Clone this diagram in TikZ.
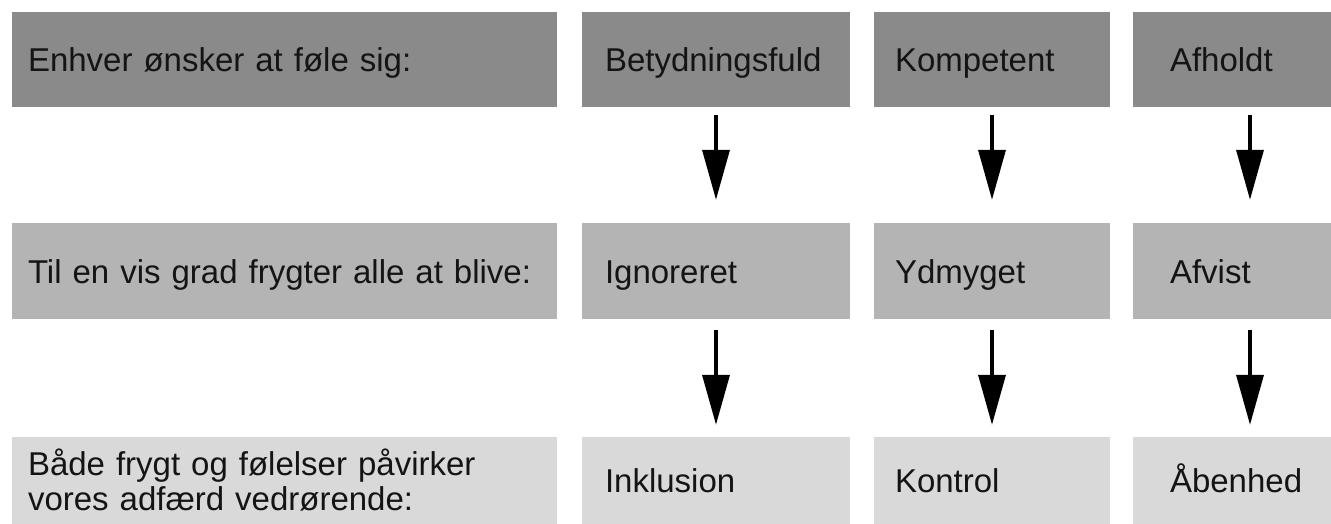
\documentclass[tikz,border=0pt]{standalone}
\usepackage{fontspec}
\setmainfont{Liberation Sans}
\usetikzlibrary{arrows.meta}

\definecolor{moerkgraa}{RGB}{138,138,138}
\definecolor{mellemgraa}{RGB}{180,180,180}
\definecolor{lysgraa}{RGB}{217,217,217}

\tikzset{
  felt/.style={rectangle, draw=none, inner ysep=0pt, align=left, text=black!92, font=\fontsize{33}{35}\selectfont},
  enlinje/.style={text height=24pt, text depth=0pt},
  raekke1/.style={felt, enlinje, fill=moerkgraa, minimum height=95pt},
  raekke2/.style={felt, enlinje, fill=mellemgraa, minimum height=96pt},
  raekke3/.style={felt, fill=lysgraa, minimum height=87pt},
  kol0/.style={text width=513pt, inner xsep=16pt},
  kol1/.style={text width=222pt, inner xsep=23pt},
  kol2/.style={text width=194pt, inner xsep=21pt},
  kol3/.style={text width=160pt, inner xsep=37pt},
  pil/.style={-{Triangle[length=50pt,width=27pt]}, line width=3.5pt},
}

\begin{document}
\begin{tikzpicture}[x=1pt, y=-1pt]
\useasboundingbox (0,0) rectangle (1331,524);
\clip (0,0) rectangle (1331,524);

% oenske
\node[raekke1, kol0] (oenske) at (284.5,59.5) {Enhver ønsker at føle sig:};
\node[raekke1, kol1] (betyd) at (716,59.5) {Betydningsfuld};
\node[raekke1, kol2] (kompet) at (992,59.5) {Kompetent};
\node[raekke1, kol3] (afhold) at (1250,59.5) {Afholdt};

% frygt
\node[raekke2, kol0] (frygt) at (284.5,271) {Til en vis grad frygter alle at blive:};
\node[raekke2, kol1] (ignor) at (716,271) {Ignoreret};
\node[raekke2, kol2] (ydmyg) at (992,271) {Ydmyget};
\node[raekke2, kol3] (afvist) at (1250,271) {Afvist};

% adfaerd
\node[raekke3, kol0] (adfaerd) at (284.5,480.5) {Både frygt og følelser påvirker\\vores adfærd vedrørende:};
\node[raekke3, enlinje, kol1] (inkl) at (716,480.5) {Inklusion};
\node[raekke3, enlinje, kol2] (kontrol) at (992,480.5) {Kontrol};
\node[raekke3, enlinje, kol3] (aaben) at (1250,480.5) {Åbenhed};

\draw[pil, shorten <=8pt, shorten >=23pt] (betyd) -- (ignor);
\draw[pil, shorten <=8pt, shorten >=23pt] (kompet) -- (ydmyg);
\draw[pil, shorten <=8pt, shorten >=23pt] (afhold) -- (afvist);
\draw[pil, shorten <=11pt, shorten >=12pt] (ignor) -- (inkl);
\draw[pil, shorten <=11pt, shorten >=12pt] (ydmyg) -- (kontrol);
\draw[pil, shorten <=11pt, shorten >=12pt] (afvist) -- (aaben);
\end{tikzpicture}
\end{document}
